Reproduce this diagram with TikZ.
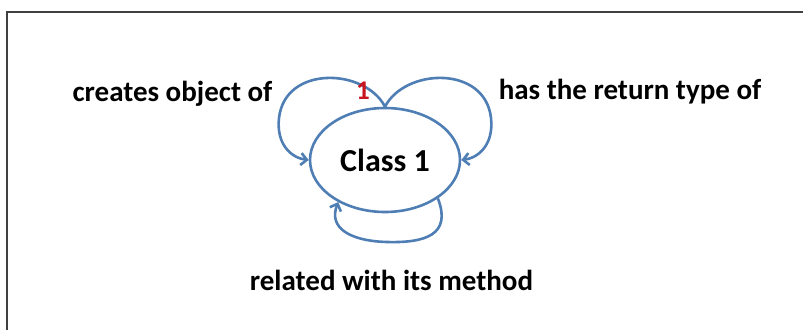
\documentclass[tikz,border=0pt]{standalone}
\usepackage{fontspec}
\setmainfont{Carlito}
\usetikzlibrary{shapes.geometric,arrows.meta}
\definecolor{loopblue}{RGB}{79,126,180}
\definecolor{onered}{RGB}{200,20,30}
\begin{document}
\begin{tikzpicture}[x=1pt,y=-1pt,
  lbl/.style={font=\bfseries\fontsize{29}{33}\selectfont, inner sep=0pt},
  cls/.style={ellipse, draw=loopblue, line width=2.6pt, minimum width=150pt, minimum height=104pt, inner sep=0pt, font=\bfseries\fontsize{32}{36}\selectfont},
  loopline/.style={draw=loopblue, line width=2.6pt, -{Straight Barb[length=6pt,width=12pt]}}]
\useasboundingbox (0,0) rectangle (803,330);
\draw[line width=1.2pt, black!75] (7,330) -- (7,12) -- (803,12);
\node[cls] (c) at (385,160) {Class 1};
\node[lbl] (t1) at (172.5,94) {creates object of};
\node[lbl] (t2) at (630,92) {has the return type of};
\node[lbl] (t3) at (391.5,280) {related with its method};
\draw[loopline] (c.north) .. controls (365,68) and (285,65) .. (279,118) .. controls (276,145) and (292,158) .. (c.west);
\draw[loopline] (c.north) .. controls (405,68) and (485,65) .. (491,118) .. controls (494,145) and (478,158) .. (c.east);
\draw[loopline] (c.-36) .. controls (452,235) and (425,243) .. (387,242) .. controls (350,241) and (328,228) .. (c.-138);
\node[font=\bfseries\fontsize{27}{30}\selectfont, text=onered, inner sep=0pt] (one) at (363,91) {1};
\end{tikzpicture}
\end{document}
